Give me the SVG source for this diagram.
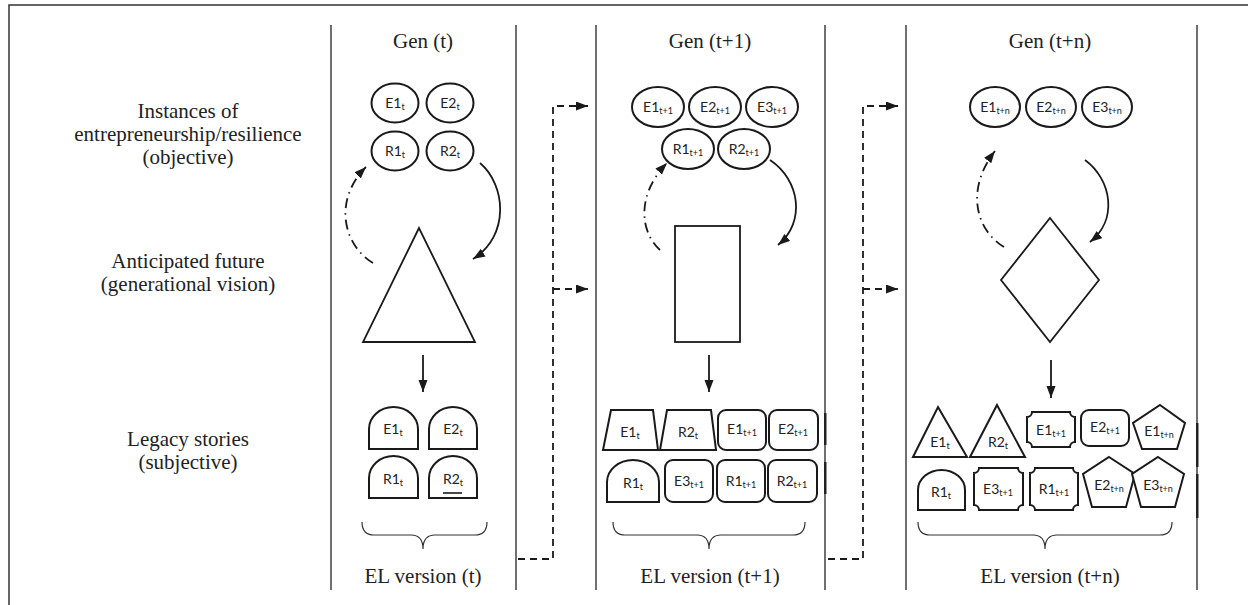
<svg xmlns="http://www.w3.org/2000/svg" width="1248" height="605" viewBox="0 0 1248 605">
<style>
.frame{fill:none;stroke:#333;stroke-width:1.5}
.col{stroke:#222;stroke-width:1.3;fill:none}
.thick{fill:#222}
.shape{fill:#fff;stroke:#1a1a1a;stroke-width:2}
.big{fill:none;stroke:#1a1a1a;stroke-width:1.8}
.serif{font-family:"Liberation Serif","Times New Roman",serif;font-size:21px;fill:#222;text-anchor:middle}
.sans{font-family:Lato,"Liberation Sans",sans-serif;font-size:14px;fill:#222;text-anchor:middle}
.sub{font-size:9px}
.conn{fill:none;stroke:#1a1a1a;stroke-width:1.8}
.dash{stroke-dasharray:7 5}
.dd{stroke-dasharray:10 5 1.5 5}
.brace{fill:none;stroke:#333;stroke-width:1.2}
</style>
<defs>
<marker id="ah" markerUnits="userSpaceOnUse" markerWidth="13" markerHeight="10" refX="12" refY="4.5" orient="auto">
<path d="M0,0 L12,4.5 L0,9 Z" fill="#1a1a1a"/>
</marker>
</defs>

<g id="frame">
<path class="frame" d="M9,605 V5 H1248"/>
<line class="col" x1="331" y1="25" x2="331" y2="590"/>
<line class="col" x1="516" y1="25" x2="516" y2="590"/>
<line class="col" x1="596" y1="25" x2="596" y2="590"/>
<line class="col" x1="825" y1="25" x2="825" y2="590"/>
<line class="col" x1="906" y1="25" x2="906" y2="590"/>
<line class="col" x1="1197" y1="25" x2="1197" y2="590"/>
<rect class="thick" x="824" y="413" width="2.5" height="32"/>
<rect class="thick" x="824" y="462" width="2.5" height="32"/>
<rect class="thick" x="1196" y="423" width="2.5" height="44"/>
<rect class="thick" x="1196" y="474" width="2.5" height="44"/>
</g>

<g id="row-labels">
<text class="serif" x="188" y="118">Instances of</text>
<text class="serif" x="188" y="141">entrepreneurship/resilience</text>
<text class="serif" x="188" y="164">(objective)</text>
<text class="serif" x="188" y="268">Anticipated future</text>
<text class="serif" x="188" y="291">(generational vision)</text>
<text class="serif" x="188" y="446">Legacy stories</text>
<text class="serif" x="188" y="469">(subjective)</text>
</g>

<g id="gen-t">
<text class="serif" x="423" y="48">Gen (t)</text>
<ellipse class="shape" cx="395" cy="103" rx="23.5" ry="19.5"/>
<text class="sans" x="395" y="108">E1<tspan class="sub" dy="2">t</tspan></text>
<ellipse class="shape" cx="450" cy="103" rx="23.5" ry="19.5"/>
<text class="sans" x="450" y="108">E2<tspan class="sub" dy="2">t</tspan></text>
<ellipse class="shape" cx="395" cy="151" rx="23.5" ry="19.5"/>
<text class="sans" x="395" y="156">R1<tspan class="sub" dy="2">t</tspan></text>
<ellipse class="shape" cx="450" cy="151" rx="23.5" ry="19.5"/>
<text class="sans" x="450" y="156">R2<tspan class="sub" dy="2">t</tspan></text>
<polygon class="big" points="419,228 363,342 475,342"/>
<text class="serif" x="423" y="583">EL version (t)</text>
</g>

<g id="legacy-t">
<path class="shape" d="M369,449 V429 A24.5,22 0 0 1 418,429 V449 Z"/>
<text class="sans" x="393" y="434">E1<tspan class="sub" dy="2">t</tspan></text>
<path class="shape" d="M429,449 V429 A24,22 0 0 1 477,429 V449 Z"/>
<text class="sans" x="453" y="434">E2<tspan class="sub" dy="2">t</tspan></text>
<path class="shape" d="M369,498 V478 A24.5,22 0 0 1 418,478 V498 Z"/>
<text class="sans" x="393" y="484">R1<tspan class="sub" dy="2">t</tspan></text>
<path class="shape" d="M429,498 V478 A24,22 0 0 1 477,478 V498 Z"/>
<text class="sans" x="453" y="484">R2<tspan class="sub" dy="2">t</tspan></text>
<line x1="443" y1="493" x2="462" y2="493" stroke="#1a1a1a" stroke-width="1.6"/>
<path class="brace" d="M362,522 Q362,535 374,535 H411 Q423,535 423,549 Q423,535 435,535 H475 Q487,535 487,522"/>
</g>

<g id="gen-t1">
<text class="serif" x="710" y="48">Gen (t+1)</text>
<ellipse class="shape" cx="658" cy="107" rx="26" ry="20"/>
<text class="sans" x="658" y="112">E1<tspan class="sub" dy="2">t+1</tspan></text>
<ellipse class="shape" cx="715" cy="107" rx="26" ry="20"/>
<text class="sans" x="715" y="112">E2<tspan class="sub" dy="2">t+1</tspan></text>
<ellipse class="shape" cx="772" cy="107" rx="26" ry="20"/>
<text class="sans" x="772" y="112">E3<tspan class="sub" dy="2">t+1</tspan></text>
<ellipse class="shape" cx="688" cy="149" rx="26" ry="20"/>
<text class="sans" x="688" y="154">R1<tspan class="sub" dy="2">t+1</tspan></text>
<ellipse class="shape" cx="744" cy="149" rx="26" ry="20"/>
<text class="sans" x="744" y="154">R2<tspan class="sub" dy="2">t+1</tspan></text>
<rect class="big" x="675" y="226" width="65" height="116"/>
<text class="serif" x="710" y="583">EL version (t+1)</text>
</g>

<g id="legacy-t1">
<path class="shape" d="M611,410 H653 L658,450 H603 Z"/>
<text class="sans" x="630" y="437">E1<tspan class="sub" dy="2">t</tspan></text>
<path class="shape" d="M667,410 H711 L716,450 H660 Z"/>
<text class="sans" x="688" y="437">R2<tspan class="sub" dy="2">t</tspan></text>
<rect class="shape" x="718" y="410" width="48" height="40" rx="8"/>
<text class="sans" x="742" y="434">E1<tspan class="sub" dy="2">t+1</tspan></text>
<rect class="shape" x="769" y="410" width="49" height="40" rx="8"/>
<text class="sans" x="793" y="434">E2<tspan class="sub" dy="2">t+1</tspan></text>
<path class="shape" d="M607,502 V482 A26,22 0 0 1 659,482 V502 Z"/>
<text class="sans" x="633" y="488">R1<tspan class="sub" dy="2">t</tspan></text>
<rect class="shape" x="665" y="460" width="48" height="42" rx="8"/>
<text class="sans" x="689" y="486">E3<tspan class="sub" dy="2">t+1</tspan></text>
<rect class="shape" x="717" y="460" width="48" height="42" rx="8"/>
<text class="sans" x="741" y="486">R1<tspan class="sub" dy="2">t+1</tspan></text>
<rect class="shape" x="768" y="460" width="49" height="42" rx="8"/>
<text class="sans" x="792" y="486">R2<tspan class="sub" dy="2">t+1</tspan></text>
<path class="brace" d="M613,522 Q613,535 625,535 H697 Q709,535 709,549 Q709,535 721,535 H793 Q805,535 805,522"/>
</g>

<g id="gen-tn">
<text class="serif" x="1050" y="48">Gen (t+n)</text>
<ellipse class="shape" cx="995" cy="107" rx="25" ry="20"/>
<text class="sans" x="995" y="112">E1<tspan class="sub" dy="2">t+n</tspan></text>
<ellipse class="shape" cx="1051" cy="107" rx="25" ry="20"/>
<text class="sans" x="1051" y="112">E2<tspan class="sub" dy="2">t+n</tspan></text>
<ellipse class="shape" cx="1107" cy="107" rx="25" ry="20"/>
<text class="sans" x="1107" y="112">E3<tspan class="sub" dy="2">t+n</tspan></text>
<polygon class="big" points="1050,218 1099,280 1050,342 1001,280"/>
<text class="serif" x="1050" y="583">EL version (t+n)</text>
</g>

<g id="legacy-tn">
<polygon class="shape" points="938,407 967,457 913,457"/>
<text class="sans" x="940" y="447">E1<tspan class="sub" dy="2">t</tspan></text>
<polygon class="shape" points="997,405 1025,457 970,457"/>
<text class="sans" x="998" y="447">R2<tspan class="sub" dy="2">t</tspan></text>
<path class="shape" d="M1032,412 H1070 A5,5 0 0 0 1075,417 V442 A5,5 0 0 0 1070,447 H1032 A5,5 0 0 0 1027,442 V417 A5,5 0 0 0 1032,412 Z"/>
<text class="sans" x="1051" y="435">E1<tspan class="sub" dy="2">t+1</tspan></text>
<rect class="shape" x="1081" y="410" width="48" height="36" rx="8"/>
<text class="sans" x="1105" y="432">E2<tspan class="sub" dy="2">t+1</tspan></text>
<polygon class="shape" points="1160,405 1185,423 1177,449 1142,449 1133,423"/>
<text class="sans" x="1159" y="436">E1<tspan class="sub" dy="2">t+n</tspan></text>
<path class="shape" d="M918,510 V490 A23.5,20 0 0 1 965,490 V510 Z"/>
<text class="sans" x="941" y="497">R1<tspan class="sub" dy="2">t</tspan></text>
<path class="shape" d="M979,468 H1018 A5,5 0 0 0 1023,473 V505 A5,5 0 0 0 1018,510 H979 A5,5 0 0 0 974,505 V473 A5,5 0 0 0 979,468 Z"/>
<text class="sans" x="998" y="494">E3<tspan class="sub" dy="2">t+1</tspan></text>
<path class="shape" d="M1035,468 H1073 A5,5 0 0 0 1078,473 V505 A5,5 0 0 0 1073,510 H1035 A5,5 0 0 0 1030,505 V473 A5,5 0 0 0 1035,468 Z"/>
<text class="sans" x="1054" y="494">R1<tspan class="sub" dy="2">t+1</tspan></text>
<polygon class="shape" points="1109,457 1135,474 1126,507 1092,507 1083,474"/>
<text class="sans" x="1109" y="490">E2<tspan class="sub" dy="2">t+n</tspan></text>
<polygon class="shape" points="1158,457 1184,474 1175,507 1141,507 1132,474"/>
<text class="sans" x="1158" y="490">E3<tspan class="sub" dy="2">t+n</tspan></text>
<path class="brace" d="M918,522 Q918,535 930,535 H1033 Q1045,535 1045,549 Q1045,535 1057,535 H1160 Q1172,535 1172,522"/>
</g>

<g id="connectors">
<path class="conn" marker-end="url(#ah)" d="M480,163 C506,185 510,236 473,259"/>
<path class="conn dd" marker-end="url(#ah)" d="M373,263 C343,245 333,200 366,167"/>
<line class="conn" marker-end="url(#ah)" x1="423" y1="355" x2="423" y2="392"/>
<path class="conn" marker-end="url(#ah)" d="M770,160 C800,180 806,222 778,245"/>
<path class="conn dd" marker-end="url(#ah)" d="M660,250 C640,232 636,195 667,163"/>
<line class="conn" marker-end="url(#ah)" x1="709" y1="355" x2="709" y2="392"/>
<path class="conn" marker-end="url(#ah)" d="M1085,160 C1112,180 1118,220 1090,242"/>
<path class="conn dd" marker-end="url(#ah)" d="M1004,247 C976,230 965,190 995,151"/>
<line class="conn" marker-end="url(#ah)" x1="1051" y1="360" x2="1051" y2="398"/>
<path class="conn dash" d="M518,559 H553 V106 H588"/>
<path class="conn dash" d="M553,289 H588"/>
<path class="conn" marker-end="url(#ah)" d="M580,106 H588"/>
<path class="conn" marker-end="url(#ah)" d="M580,289 H588"/>
<path class="conn dash" d="M828,559 H863 V106 H898"/>
<path class="conn dash" d="M863,289 H898"/>
<path class="conn" marker-end="url(#ah)" d="M890,106 H898"/>
<path class="conn" marker-end="url(#ah)" d="M890,289 H898"/>
</g>
</svg>
